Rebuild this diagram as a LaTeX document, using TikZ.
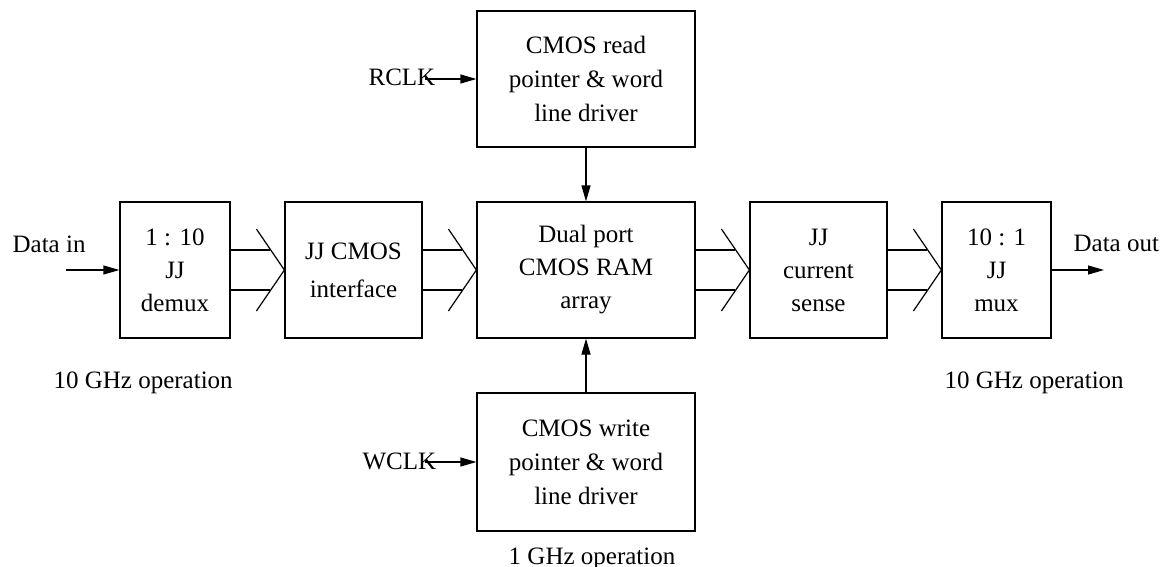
\documentclass[tikz,border=0pt]{standalone}
\usepackage{fontspec}
\setmainfont{Liberation Serif}
\usetikzlibrary{arrows.meta}
\newcommand\busarrow[2]{%
  \draw ([yshift=10pt]#1.east) -- ([xshift=-7pt,yshift=10pt]#2.west);
  \draw ([yshift=-10pt]#1.east) -- ([xshift=-7pt,yshift=-10pt]#2.west);
  \draw ([xshift=-14pt,yshift=20.5pt]#2.west) -- (#2.west) -- ([xshift=-14pt,yshift=-20.5pt]#2.west);}
\begin{document}
\begin{tikzpicture}[x=0.5pt,y=-0.5pt, line width=0.6pt,
  blk/.style={draw, line width=0.6pt, inner sep=0pt, align=center, minimum height=68pt,
    font=\fontsize{12.5}{16.5}\selectfont},
  lbl/.style={inner sep=0pt, anchor=base west, font=\fontsize{12.5}{16.5}\selectfont},
  arr/.style={-{Triangle[length=8pt,width=4.5pt]}}]
\useasboundingbox (0,0) rectangle (1161,567);
% blocks
\node[blk, minimum width=55pt]   (demux) at (175,270)   {1 : 10\\JJ\\demux};
\node[blk, minimum width=68.5pt] (iface) at (353.5,270) {JJ CMOS\\[2.5pt]interface};
\node[blk, minimum width=109pt]  (ram)   at (586,270)   {Dual port\\CMOS RAM\\array};
\node[blk, minimum width=68.5pt] (sense) at (818.5,270) {JJ\\current\\sense};
\node[blk, minimum width=54.5pt] (mux)   at (996.5,270) {10 : 1\\JJ\\mux};
\node[blk, minimum width=109pt, font=\fontsize{12.5}{17}\selectfont] (rd) at (586,79) {CMOS read\\pointer \& word\\line driver};
\node[blk, minimum width=109pt, minimum height=69pt, font=\fontsize{12.5}{17}\selectfont] (wr) at (586,462) {CMOS write\\pointer \& word\\line driver};
% labels
\node[lbl] (din)  at (12,252)  {Data in};
\node[lbl] (dout) at (1073,251) {Data out};
\node[lbl] (rclk) at (368,86)  {RCLK};
\node[lbl] (wclk) at (362,469) {WCLK};
\node[lbl] (opl)  at (53,388)  {10 GHz operation};
\node[lbl] (opr)  at (944,388) {10 GHz operation};
\node[lbl, anchor=base] (opm) at (592,564) {1 GHz operation};
% free ends
\coordinate (dinstart) at (66,270);
\coordinate (doutend) at (1104,270);
\coordinate (rclkstart) at (425,79);
\coordinate (wclkstart) at (425,462);
% connectors
\draw[arr] (dinstart) -- (demux.west);
\draw[arr] (mux.east) -- (doutend);
\draw[arr] (rclkstart) -- (rd.west);
\draw[arr] (wclkstart) -- (wr.west);
\draw[arr] (rd) -- (ram);
\draw[arr] (wr) -- (ram);
\busarrow{demux}{iface}
\busarrow{iface}{ram}
\busarrow{ram}{sense}
\busarrow{sense}{mux}
\end{tikzpicture}
\end{document}
